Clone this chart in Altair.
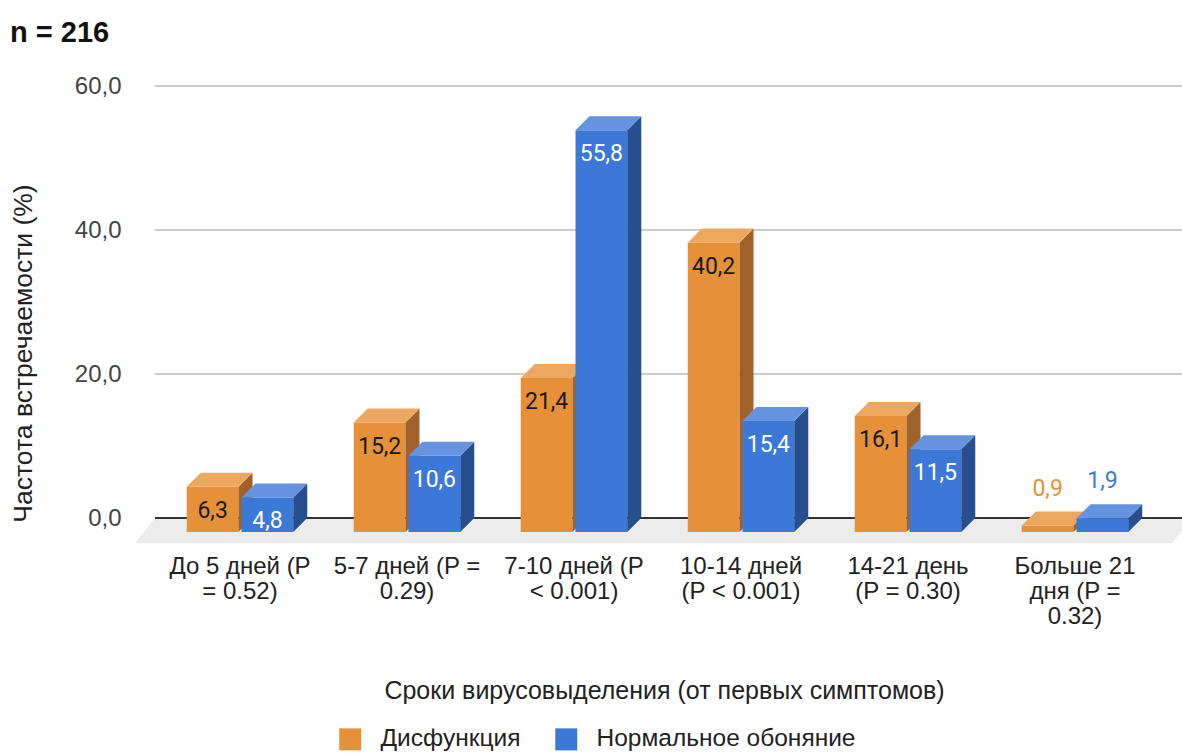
import altair as alt
import pandas as pd

# ---------------- data ----------------
categories = [
    "До 5 дней (P\n= 0.52)",
    "5-7 дней (P =\n0.29)",
    "7-10 дней (P\n< 0.001)",
    "10-14 дней\n(P < 0.001)",
    "14-21 день\n(P = 0.30)",
    "Больше 21\nдня (P =\n0.32)",
]
series = ["Дисфункция", "Нормальное обоняние"]
dysfunction = [6.3, 15.2, 21.4, 40.2, 16.1, 0.9]
normal = [4.8, 10.6, 55.8, 15.4, 11.5, 1.9]
y_ticks = [0, 20, 40, 60]

front_colors = ["#e69138", "#3c78d8"]
top_colors = ["#eca85e", "#6593e0"]
side_colors = ["#a0622a", "#274f90"]
label_in_colors = ["#1a1a1a", "#ffffff"]

# ---------------- geometry (layout constants) ----------------
PX_UNIT_Y = 7.2          # pixels per percent
STEP = 167.0             # pixels per category
DEPTH = 14.0             # 3D depth in px
DX = DEPTH / STEP
DY = DEPTH / PX_UNIT_Y
W = 0.31                 # bar width (category units)
GAP = 0.018
PLOT_W, PLOT_H = 1047, 457
X_DOM = [(135 - 156.5) / STEP, (1182 - 156.5) / STEP]
Y_DOM = [-(543 - 518) / PX_UNIT_Y, 60]

xs = alt.Scale(domain=X_DOM, nice=False, zero=False)
ys = alt.Scale(domain=Y_DOM, nice=False, zero=False)

front_rows, side_rows, top_rows, label_rows = [], [], [], []
for si, vals in enumerate([dysfunction, normal]):
    for ci, v in enumerate(vals):
        c = ci + 0.5
        if si == 0:
            x0, x1 = c - GAP / 2 - W, c - GAP / 2
        else:
            x0, x1 = c + GAP / 2, c + GAP / 2 + W
        bid = f"b{si}{ci}"
        front_rows.append(dict(id=bid, s=series[si], x0=x0, x1=x1, y0=-DY, y1=v - DY, grp=si))
        side_rows += [
            dict(id=bid, x=x1, y=-DY, y2=v - DY, grp=si),
            dict(id=bid, x=x1 + DX, y=0.0, y2=v, grp=si),
        ]
        top_rows += [
            dict(id=bid, y=v - DY, x=x0, x2=x1, grp=si),
            dict(id=bid, y=v, x=x0 + DX, x2=x1 + DX, grp=si),
        ]
        inside = v >= 3
        label_rows.append(dict(
            x=(x0 + x1) / 2, y=v - DY, t=f"{v:.1f}".replace(".", ","),
            col=label_in_colors[si] if inside else front_colors[si], inside=inside))

front = pd.DataFrame(front_rows)
side = pd.DataFrame(side_rows)
top = pd.DataFrame(top_rows)
labels = pd.DataFrame(label_rows)
cats = pd.DataFrame({"x": [i + 0.5 for i in range(len(categories))], "t": categories})

floor_df = pd.DataFrame({
    "y": [Y_DOM[0], 0],
    "x": [(135 - 156.5) / STEP, (155 - 156.5) / STEP],
    "x2": [(1172 - 156.5) / STEP, (1192 - 156.5) / STEP],
})
grid_df = pd.DataFrame({"y": [t for t in y_ticks if t != 0]})
zero_df = pd.DataFrame({"y": [0]})
GX0, GX1 = (155 - 156.5) / STEP, (1192 - 156.5) / STEP

FONT = "Liberation Sans"

x_axis = alt.Axis(
    title="Сроки вирусовыделения (от первых симптомов)", labels=False, ticks=False,
    domain=False, grid=False, titleFont=FONT, titleFontSize=25, titleFontWeight="normal",
    titleColor="#222222", titleX=529, titleY=147, titleBaseline="middle", titleAlign="center",
)
y_axis = alt.Axis(
    title="Частота встречаемости (%)", values=y_ticks, grid=False, ticks=False, domain=False,
    labelExpr="replace(format(datum.value, '.1f'), '.', ',')", labelFont=FONT,
    labelFontSize=24, labelColor="#444444", labelPadding=14,
    titleFont=FONT, titleFontSize=26.5, titleFontWeight="normal", titleColor="#222222",
    titleX=-112, titleY=267, titleAngle=-90, titleAlign="center", titleBaseline="middle",
)

floor = alt.Chart(floor_df).mark_area(orient="horizontal", color="#ececec").encode(
    y=alt.Y("y:Q", scale=ys, axis=y_axis), x=alt.X("x:Q", scale=xs, axis=x_axis, stack=None),
    x2="x2:Q")

grid = alt.Chart(grid_df).mark_rule(color="#cccccc", strokeWidth=2).encode(
    y=alt.Y("y:Q", scale=ys), x=alt.datum(GX0), x2=alt.datum(GX1))
zero = alt.Chart(zero_df).mark_rule(color="#333333", strokeWidth=2).encode(
    y=alt.Y("y:Q", scale=ys), x=alt.datum(GX0), x2=alt.datum(GX1))

layers = [floor, grid, zero]
for si in range(2):
    f = alt.Chart(front[front.grp == si]).mark_rect().encode(
        x=alt.X("x0:Q", scale=xs), x2="x1:Q",
        y=alt.Y("y0:Q", scale=ys), y2="y1:Q",
        color=alt.Color("s:N", scale=alt.Scale(domain=series, range=front_colors),
                        legend=alt.Legend(title=None, labelLimit=0)),
    )
    sd = alt.Chart(side[side.grp == si]).mark_area(orient="vertical", color=side_colors[si]).encode(
        x=alt.X("x:Q", scale=xs), y=alt.Y("y:Q", scale=ys, stack=None), y2="y2:Q",
        detail="id:N",
    )
    tp = alt.Chart(top[top.grp == si]).mark_area(orient="horizontal", color=top_colors[si]).encode(
        y=alt.Y("y:Q", scale=ys), x=alt.X("x:Q", scale=xs, stack=None), x2="x2:Q",
        detail="id:N",
    )
    layers += [f, sd, tp]

lab_in = alt.Chart(labels[labels.inside]).mark_text(
    font="Roboto", fontSize=23, baseline="middle", dy=24).encode(
    x=alt.X("x:Q", scale=xs), y=alt.Y("y:Q", scale=ys), text="t:N",
    color=alt.Color("col:N", scale=None))
lab_out = alt.Chart(labels[~labels.inside]).mark_text(
    font="Roboto", fontSize=23, baseline="middle", dy=-37).encode(
    x=alt.X("x:Q", scale=xs), y=alt.Y("y:Q", scale=ys), text="t:N",
    color=alt.Color("col:N", scale=None))
cat_text = alt.Chart(cats).mark_text(
    font=FONT, fontSize=24, baseline="top", lineBreak="\n", lineHeight=25, color="#222222").encode(
    x=alt.X("x:Q", scale=xs), y=alt.value(469), text="t:N")

layers += [lab_in, lab_out, cat_text]

chart = alt.layer(*layers).properties(
    width=PLOT_W, height=PLOT_H,
    title=alt.TitleParams("n = 216", anchor="start", frame="bounds", font=FONT, fontSize=29,
                          fontWeight="bold", color="#111111", offset=26),
    autosize=alt.AutoSizeParams(type="none"),
    padding={"left": 135, "top": 86, "right": 0, "bottom": 211},
).configure_view(stroke=None).configure_legend(
    orient="none", legendX=203, legendY=641, direction="horizontal",
    symbolType="square", symbolSize=484, symbolStrokeWidth=0, symbolOpacity=1,
    labelFont=FONT, labelFontSize=24.5, labelColor="#222222", labelOffset=18, columnPadding=33,
    labelLimit=0,
)

chart.save("out.html", embed_options={"renderer": "svg", "actions": False})
